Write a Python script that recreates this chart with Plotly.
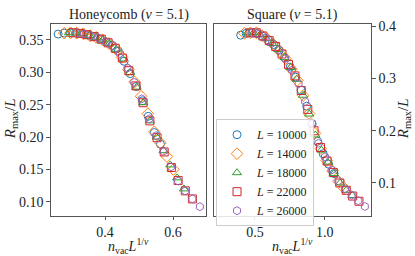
import plotly.graph_objects as go

# ---------------- data ----------------
L_labels = ["10000", "14000", "18000", "22000", "26000"]

# Honeycomb panel
hc_x_10000 = [0.262, 0.280, 0.297, 0.315, 0.333, 0.350, 0.368, 0.386, 0.403, 0.421, 0.439, 0.456, 0.474, 0.492, 0.510, 0.527, 0.545, 0.563]
hc_y_10000 = [0.359, 0.3605, 0.361, 0.361, 0.3595, 0.3575, 0.355, 0.3515, 0.347, 0.3415, 0.3325, 0.317, 0.298, 0.278, 0.256, 0.232, 0.207, 0.189]
hc_x_14000 = [0.280, 0.299, 0.317, 0.336, 0.356, 0.374, 0.393, 0.412, 0.430, 0.450, 0.469, 0.487, 0.506, 0.526, 0.545, 0.563, 0.582, 0.601]
hc_y_14000 = [0.3605, 0.361, 0.3605, 0.3595, 0.3565, 0.354, 0.350, 0.3445, 0.337, 0.323, 0.304, 0.285, 0.263, 0.236, 0.208, 0.191, 0.170, 0.150]
hc_x_18000 = [0.294, 0.314, 0.333, 0.354, 0.374, 0.393, 0.413, 0.433, 0.452, 0.473, 0.493, 0.512, 0.532, 0.552, 0.572, 0.592, 0.612, 0.632]
hc_y_18000 = [0.361, 0.3605, 0.3595, 0.357, 0.354, 0.350, 0.344, 0.3355, 0.3205, 0.2995, 0.277, 0.253, 0.225, 0.200, 0.179, 0.157, 0.137, 0.120]
hc_x_22000 = [0.306, 0.327, 0.347, 0.368, 0.389, 0.409, 0.430, 0.451, 0.470, 0.491, 0.512, 0.532, 0.553, 0.574, 0.595, 0.615, 0.636, 0.657]
hc_y_22000 = [0.361, 0.360, 0.358, 0.355, 0.351, 0.3455, 0.337, 0.322, 0.3025, 0.279, 0.253, 0.225, 0.199, 0.177, 0.153, 0.133, 0.117, 0.1045]
hc_x_26000 = [0.316, 0.338, 0.358, 0.380, 0.402, 0.422, 0.444, 0.466, 0.486, 0.508, 0.530, 0.550, 0.572, 0.594, 0.615, 0.636, 0.657, 0.679]
hc_y_26000 = [0.3605, 0.359, 0.3565, 0.353, 0.3475, 0.341, 0.329, 0.3065, 0.2845, 0.259, 0.228, 0.202, 0.178, 0.154, 0.132, 0.117, 0.1045, 0.0925]

# Square panel
sq_x_10000 = [0.398, 0.437, 0.477, 0.516, 0.555, 0.594, 0.634, 0.673, 0.712, 0.752, 0.791, 0.830, 0.870, 0.909, 0.948, 0.988, 1.027, 1.066]
sq_y_10000 = [0.383, 0.3865, 0.3875, 0.386, 0.381, 0.374, 0.365, 0.354, 0.340, 0.322, 0.3025, 0.278, 0.247, 0.213, 0.180, 0.156, 0.136, 0.118]
sq_x_14000 = [0.425, 0.467, 0.510, 0.551, 0.593, 0.635, 0.677, 0.719, 0.761, 0.803, 0.845, 0.887, 0.929, 0.971, 1.013, 1.055, 1.097, 1.139]
sq_y_14000 = [0.3865, 0.3875, 0.3875, 0.382, 0.3745, 0.3645, 0.3525, 0.338, 0.318, 0.2965, 0.2675, 0.233, 0.195, 0.166, 0.143, 0.123, 0.1035, 0.090]
sq_x_18000 = [0.447, 0.490, 0.535, 0.579, 0.623, 0.667, 0.712, 0.755, 0.799, 0.844, 0.888, 0.932, 0.976, 1.020, 1.064, 1.109, 1.153, 1.196]
sq_y_18000 = [0.3875, 0.3875, 0.384, 0.377, 0.367, 0.3555, 0.340, 0.321, 0.2985, 0.268, 0.232, 0.192, 0.163, 0.140, 0.118, 0.100, 0.086, 0.076]
sq_x_22000 = [0.465, 0.510, 0.557, 0.602, 0.648, 0.693, 0.740, 0.786, 0.831, 0.878, 0.923, 0.969, 1.016, 1.061, 1.107, 1.153, 1.199, 1.244]
sq_y_22000 = [0.3875, 0.3875, 0.3815, 0.3725, 0.3615, 0.347, 0.327, 0.305, 0.277, 0.241, 0.200, 0.168, 0.142, 0.120, 0.100, 0.086, 0.075, 0.065]
sq_x_26000 = [0.480, 0.527, 0.575, 0.622, 0.669, 0.717, 0.765, 0.812, 0.859, 0.907, 0.954, 1.001, 1.049, 1.096, 1.144, 1.192, 1.239, 1.286]
sq_y_26000 = [0.3875, 0.385, 0.378, 0.3675, 0.355, 0.338, 0.316, 0.290, 0.256, 0.215, 0.176, 0.150, 0.125, 0.104, 0.089, 0.077, 0.066, 0.055]

hc_x = [hc_x_10000, hc_x_14000, hc_x_18000, hc_x_22000, hc_x_26000]
hc_y = [hc_y_10000, hc_y_14000, hc_y_18000, hc_y_22000, hc_y_26000]
sq_x = [sq_x_10000, sq_x_14000, sq_x_18000, sq_x_22000, sq_x_26000]
sq_y = [sq_y_10000, sq_y_14000, sq_y_18000, sq_y_22000, sq_y_26000]

hc_xticks = [0.4, 0.6]
hc_yticks = [0.10, 0.15, 0.20, 0.25, 0.30, 0.35]
sq_xticks = [0.5, 1.0]
sq_yticks = [0.1, 0.2, 0.3, 0.4]

# ---------------- style ----------------
colors = ["#1f77b4", "#ff7f0e", "#2ca02c", "#d62728", "#9467bd"]
symbols = ["circle-open", "diamond-open", "triangle-up-open", "square-open", "hexagon-open"]
sizes = [8, 9, 8, 8, 8]
FONT = "Liberation Serif"
W, H = 415, 256

fig = go.Figure()
for i, lab in enumerate(L_labels):
    fig.add_trace(go.Scatter(
        x=hc_x[i], y=hc_y[i], mode="markers", xaxis="x", yaxis="y",
        name=f"<i>L</i> = {lab}", showlegend=False, legendgroup=lab,
        marker=dict(symbol=symbols[i], size=sizes[i], color=colors[i],
                    line=dict(width=1, color=colors[i]))))
for i, lab in enumerate(L_labels):
    fig.add_trace(go.Scatter(
        x=sq_x[i], y=sq_y[i], mode="markers", xaxis="x2", yaxis="y2",
        name=f"<i>L</i> = {lab}", showlegend=True, legendgroup=lab,
        marker=dict(symbol=symbols[i], size=sizes[i], color=colors[i],
                    line=dict(width=1, color=colors[i]))))

def px_x(p):
    return p / W

def px_y(p):
    return 1 - p / H

axis_common = dict(showgrid=False, zeroline=False, showline=True, mirror=True,
                   linecolor="#555555", linewidth=1.3, ticks="outside",
                   ticklen=3.5, tickwidth=1, tickcolor="#555555",
                   tickfont=dict(family=FONT, size=14, color="#222222"))

fig.update_layout(
    width=W, height=H, autosize=False,
    margin=dict(l=0, r=0, t=0, b=0),
    paper_bgcolor="white", plot_bgcolor="white",
    font=dict(family=FONT, size=14, color="#222222"),
    xaxis=dict(domain=[px_x(51), px_x(206)], range=[0.241, 0.697],
               tickvals=hc_xticks, ticktext=["0.4", "0.6"], anchor="y", **axis_common),
    yaxis=dict(domain=[px_y(215), px_y(20)], range=[0.0787, 0.375],
               tickvals=hc_yticks, ticktext=[f"{v:.2f}" for v in hc_yticks], anchor="x", **axis_common),
    xaxis2=dict(domain=[px_x(214), px_x(371)], range=[0.207, 1.33],
                tickvals=sq_xticks, ticktext=["0.5", "1.0"], anchor="y2", **axis_common),
    yaxis2=dict(domain=[px_y(215), px_y(20)], range=[0.0375, 0.405], side="right",
                tickvals=sq_yticks, ticktext=["0.1", "0.2", "0.3", "0.4"], anchor="x2", **axis_common),
    legend=dict(x=px_x(216), y=px_y(117), xanchor="left", yanchor="top",
                bgcolor="rgba(255,255,255,0.85)", bordercolor="#cccccc", borderwidth=1,
                font=dict(family=FONT, size=12, color="#222222"),
                itemwidth=30, tracegroupgap=0),
    showlegend=True,
)

ann = [
    dict(text="Honeycomb (<i>ν</i> = 5.1)", x=px_x(128.5), y=px_y(11), xref="paper", yref="paper",
         showarrow=False, xanchor="center", yanchor="middle", font=dict(size=14)),
    dict(text="Square (<i>ν</i> = 5.1)", x=px_x(292.5), y=px_y(11), xref="paper", yref="paper",
         showarrow=False, xanchor="center", yanchor="middle", font=dict(size=14)),
    dict(text="<i>n</i><sub>vac</sub><i>L</i><sup>1/<i>ν</i></sup>", x=px_x(128.5), y=px_y(246),
         xref="paper", yref="paper", showarrow=False, xanchor="center", yanchor="middle", font=dict(size=14)),
    dict(text="<i>n</i><sub>vac</sub><i>L</i><sup>1/<i>ν</i></sup>", x=px_x(292.5), y=px_y(246),
         xref="paper", yref="paper", showarrow=False, xanchor="center", yanchor="middle", font=dict(size=14)),
    dict(text="<i>R</i><sub>max</sub>/<i>L</i>", x=px_x(11), y=px_y(117), textangle=-90,
         xref="paper", yref="paper", showarrow=False, xanchor="center", yanchor="middle", font=dict(size=15)),
    dict(text="<i>R</i><sub>max</sub>/<i>L</i>", x=px_x(404), y=px_y(117), textangle=-90,
         xref="paper", yref="paper", showarrow=False, xanchor="center", yanchor="middle", font=dict(size=15)),
]
fig.update_layout(annotations=ann)

fig.write_html("out.html", config={"displayModeBar": False},
               post_script="document.body.style.margin='0';document.body.style.overflow='hidden';")
